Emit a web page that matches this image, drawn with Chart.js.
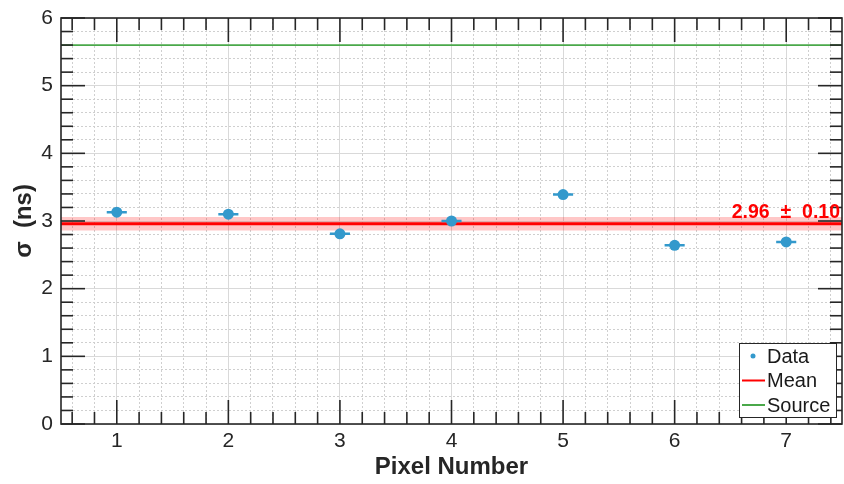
<!DOCTYPE html>
<html>
<head>
<meta charset="utf-8">
<script src="https://cdn.jsdelivr.net/npm/chart.js@4.4.1/dist/chart.umd.min.js"></script>
<style>
  html, body { margin: 0; padding: 0; background: #fff; }
  #wrap { width: 844px; height: 484px; }
</style>
</head>
<body>
<div id="wrap"><canvas id="myChart" width="844" height="484"></canvas></div>
<script>
// values
var pixelNum = [1, 2, 3, 4, 5, 6, 7];
var sigma = [3.13, 3.10, 2.81, 3.00, 3.39, 2.64, 2.69];
var xErr = [0.09, 0.09, 0.09, 0.09, 0.09, 0.09, 0.09];
var meanVal = 2.96;
var meanErr = 0.10;
var sourceVal = 5.6;
var xRange = [0.5, 7.5];
var yRange = [0, 6];
var xTicks = [1, 2, 3, 4, 5, 6, 7];
var yTicks = [0, 1, 2, 3, 4, 5, 6];
var minorStep = 0.2;

var blue = '#3399CC';
var red = '#FF0000';
var green = '#4AA84A';
var axisColor = '#262626';

Chart.defaults.font.family = "'Liberation Sans', Arial, sans-serif";
Chart.defaults.color = axisColor;

function minorTicks(lo, hi, majors) {
    var out = [];
    var start = Math.ceil(lo / minorStep - 1e-9);
    for (var k = start; k * minorStep <= hi + 1e-9; k++) {
        var v = Math.round(k * minorStep * 100) / 100;
        if (v <= lo || v >= hi) continue;
        if (majors.indexOf(v) === -1) out.push(v);
    }
    return out;
}

var xMinor = minorTicks(xRange[0], xRange[1], xTicks);
var yMinor = minorTicks(yRange[0], yRange[1], yTicks);

// data points and their horizontal error bars
var points = [];
var errBars = [];
var i;
for (i = 0; i < pixelNum.length; i++) {
    points.push({x: pixelNum[i], y: sigma[i]});
    errBars.push({x: pixelNum[i] - xErr[i], y: sigma[i]});
    errBars.push({x: pixelNum[i] + xErr[i], y: sigma[i]});
    errBars.push({x: pixelNum[i], y: null});
}

function hline(y) {
    return [{x: xRange[0], y: y}, {x: xRange[1], y: y}];
}

// no extra label padding, keep the plot box where the reference has it
function noPad(s) {
    s.paddingLeft = 0;
    s.paddingRight = 0;
    s.paddingTop = 0;
    s.paddingBottom = 0;
}

const data = {
    datasets: [{
        label: 'Data',
        data: points,
        showLine: false,
        pointRadius: 5.5,
        pointBackgroundColor: blue,
        pointBorderWidth: 0,
        order: 1
    }, {
        label: 'errors',
        data: errBars,
        showLine: true,
        spanGaps: false,
        borderColor: blue,
        borderWidth: 2.5,
        pointRadius: 0,
        order: 2
    }, {
        label: 'Source',
        data: hline(sourceVal),
        showLine: true,
        borderColor: green,
        borderWidth: 1.8,
        pointRadius: 0,
        order: 3
    }, {
        label: 'Mean',
        data: hline(meanVal),
        showLine: true,
        borderColor: red,
        borderWidth: 3,
        pointRadius: 0,
        order: 4
    }, {
        label: 'bandHi',
        data: hline(meanVal + meanErr),
        showLine: true,
        borderWidth: 0,
        borderColor: 'rgba(0,0,0,0)',
        backgroundColor: 'rgba(255,0,0,0.22)',
        pointRadius: 0,
        fill: '+1',
        order: 5
    }, {
        label: 'bandLo',
        data: hline(meanVal - meanErr),
        showLine: true,
        borderWidth: 0,
        borderColor: 'rgba(0,0,0,0)',
        pointRadius: 0,
        order: 6
    }]
};

// MATLAB-like box, inward ticks, legend and mean label
const axesDecor = {
    id: 'axesDecor',
    afterDraw(chart) {
        const ctx = chart.ctx;
        const a = chart.chartArea;
        const sx = chart.scales.x;
        const sy = chart.scales.y;

        function seg(x1, y1, x2, y2) {
            ctx.beginPath();
            ctx.moveTo(x1, y1);
            ctx.lineTo(x2, y2);
            ctx.stroke();
        }

        ctx.save();
        ctx.strokeStyle = axisColor;
        ctx.lineWidth = 1.6;

        xTicks.forEach(v => {
            const px = sx.getPixelForValue(v);
            seg(px, a.bottom, px, a.bottom - 24);
            seg(px, a.top, px, a.top + 24);
        });
        xMinor.forEach(v => {
            const px = sx.getPixelForValue(v);
            seg(px, a.bottom, px, a.bottom - 12);
            seg(px, a.top, px, a.top + 12);
        });
        yTicks.forEach(v => {
            const py = sy.getPixelForValue(v);
            seg(a.left, py, a.left + 24, py);
            seg(a.right, py, a.right - 24, py);
        });
        yMinor.forEach(v => {
            const py = sy.getPixelForValue(v);
            seg(a.left, py, a.left + 12, py);
            seg(a.right, py, a.right - 12, py);
        });

        ctx.strokeRect(a.left, a.top, a.right - a.left, a.bottom - a.top);

        // mean label
        ctx.fillStyle = red;
        ctx.font = "bold 19.5px 'Liberation Sans', Arial, sans-serif";
        ctx.textAlign = 'right';
        ctx.textBaseline = 'alphabetic';
        ctx.fillText(meanVal.toFixed(2) + '  \u00b1  ' + meanErr.toFixed(2),
            a.right - 2, sy.getPixelForValue(meanVal + meanErr) + 1);

        // legend
        const bx = a.right - 103, by = a.bottom - 81, bw = 97, bh = 74;
        ctx.fillStyle = '#fff';
        ctx.fillRect(bx, by, bw, bh);
        ctx.strokeStyle = axisColor;
        ctx.lineWidth = 1;
        ctx.strokeRect(bx + 0.5, by + 0.5, bw, bh);

        ctx.font = "20px 'Liberation Sans', Arial, sans-serif";
        ctx.textAlign = 'left';
        ctx.textBaseline = 'middle';
        const items = [
            {text: 'Data', kind: 'dot', color: blue},
            {text: 'Mean', kind: 'line', color: red},
            {text: 'Source', kind: 'line', color: green}
        ];
        items.forEach((it, k) => {
            const cy = by + 13 + k * 24.5;
            if (it.kind === 'dot') {
                ctx.fillStyle = it.color;
                ctx.beginPath();
                ctx.arc(bx + 14, cy, 2.5, 0, Math.PI * 2);
                ctx.fill();
            } else {
                ctx.strokeStyle = it.color;
                ctx.lineWidth = 2;
                seg(bx + 3, cy, bx + 26, cy);
            }
            ctx.fillStyle = '#1a1a1a';
            ctx.fillText(it.text, bx + 28, cy + 1);
        });
        ctx.restore();
    }
};

const config = {
    type: 'scatter',
    data: data,
    options: {
        responsive: false,
        animation: false,
        devicePixelRatio: 1,
        layout: {autoPadding: false, padding: {top: 18, right: 2, left: 0, bottom: 0}},
        plugins: {
            legend: {display: false},
            tooltip: {enabled: false}
        },
        scales: {
            x: {
                type: 'linear',
                min: xRange[0],
                max: xRange[1],
                afterBuildTicks: s => { s.ticks = xTicks.map(v => ({value: v})); },
                afterFit: s => { s.height = 60; noPad(s); },
                ticks: {font: {size: 21}, padding: 5, maxRotation: 0},
                grid: {color: '#d9d9d9', lineWidth: 1, drawTicks: false},
                border: {display: false},
                title: {
                    display: true,
                    text: 'Pixel Number',
                    font: {size: 24, weight: 'bold'},
                    padding: {top: 0, bottom: 2}
                }
            },
            xm: {
                type: 'linear',
                position: 'bottom',
                min: xRange[0],
                max: xRange[1],
                afterBuildTicks: s => { s.ticks = xMinor.map(v => ({value: v})); },
                afterFit: s => { s.height = 0; noPad(s); },
                ticks: {display: false},
                grid: {color: '#cfcfcf', lineWidth: 1, drawTicks: false},
                border: {display: false, dash: [2, 2]}
            },
            y: {
                type: 'linear',
                min: yRange[0],
                max: yRange[1],
                afterBuildTicks: s => { s.ticks = yTicks.map(v => ({value: v})); },
                afterFit: s => { s.width = 61; noPad(s); },
                ticks: {font: {size: 21}, padding: 8},
                grid: {color: '#d9d9d9', lineWidth: 1, drawTicks: false},
                border: {display: false},
                title: {
                    display: true,
                    text: '\u03c3  (ns)',
                    font: {size: 24, weight: 'bold'},
                    padding: {top: 10, bottom: 0}
                }
            },
            ym: {
                type: 'linear',
                position: 'left',
                min: yRange[0],
                max: yRange[1],
                afterBuildTicks: s => { s.ticks = yMinor.map(v => ({value: v})); },
                afterFit: s => { s.width = 0; noPad(s); },
                ticks: {display: false},
                grid: {color: '#cfcfcf', lineWidth: 1, drawTicks: false},
                border: {display: false, dash: [2, 2]}
            }
        }
    },
    plugins: [axesDecor]
};

var myChart = new Chart(document.getElementById('myChart').getContext('2d'), config);
</script>
</body>
</html>
